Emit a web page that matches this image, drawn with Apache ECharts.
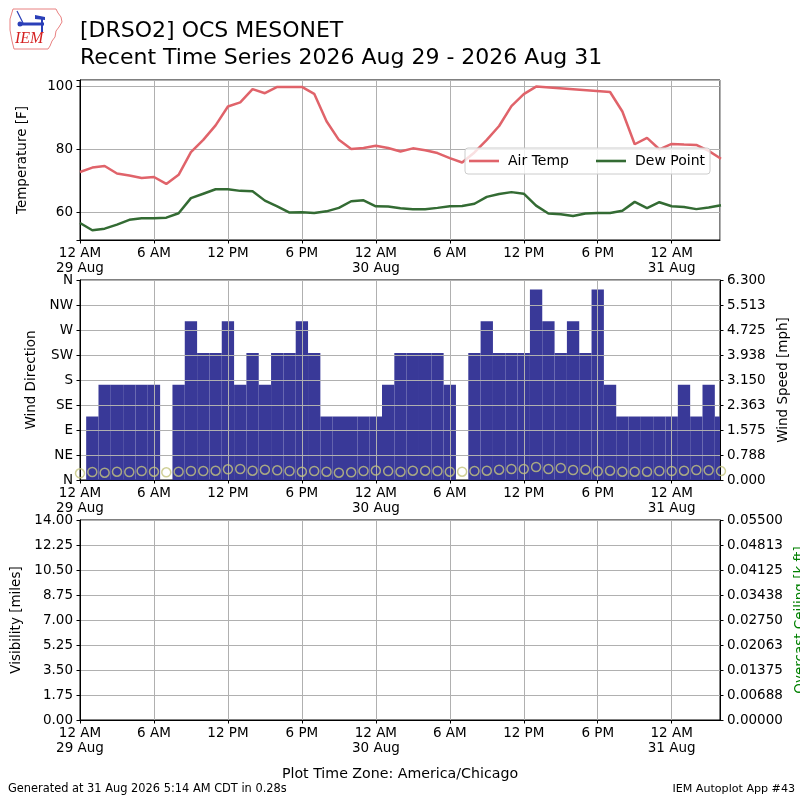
<!DOCTYPE html>
<html>
<head>
<meta charset="utf-8">
<title>[DRSO2] OCS MESONET</title>
<script src="https://cdn.jsdelivr.net/npm/echarts@6/dist/echarts.min.js"></script>
<style>
  html, body { margin: 0; padding: 0; background: #fff; }
  #chart { width: 800px; height: 800px; }
</style>
</head>
<body>
<div id="chart"></div>
<script>
  // hours since 29 Aug 2026 12 AM (America/Chicago)
  var hours = [0, 1, 2, 3, 4, 5, 6, 7, 8, 9, 10, 11, 12, 13, 14, 15, 16, 17, 18, 19,
    20, 21, 22, 23, 24, 25, 26, 27, 28, 29, 30, 31, 32, 33, 34, 35, 36, 37, 38, 39,
    40, 41, 42, 43, 44, 45, 46, 47, 48, 49, 50, 51, 52];

  var airTemp = [72.8, 74.2, 74.7, 72.3, 71.7, 70.9, 71.2, 69.0, 71.9, 79.1,
    83.0, 87.6, 93.6, 94.9, 99.1, 97.8, 99.8, 99.8, 99.8, 97.6,
    88.9, 83.0, 80.1, 80.4, 81.1, 80.4, 79.3, 80.3, 79.7, 78.8,
    77.2, 75.8, 79.0, 83.0, 87.4, 93.7, 97.5, 99.9, null, null,
    null, null, null, 98.2, 92.0, 81.6, 83.6, 80.0, 81.7, 81.5,
    81.4, 79.5, 77.0];

  var dewPoint = [56.6, 54.3, 54.8, 56.1, 57.6, 58.1, 58.1, 58.3, 59.7, 64.5,
    65.9, 67.3, 67.3, 66.8, 66.7, 63.7, 61.9, 59.9, 60.0, 59.8,
    60.3, 61.4, 63.5, 63.8, 61.9, 61.8, 61.3, 61.0, 61.0, 61.4,
    61.9, 62.0, 62.7, 64.9, 65.8, 66.4, 65.9, 62.1, 59.6, 59.4,
    58.8, 59.6, 59.8, 59.8, 60.5, 63.3, 61.3, 63.2, 61.9, 61.7,
    61.0, 61.5, 62.2];

  // mph
  var windSpeed = [0, 2, 3, 3, 3, 3, 3, 0, 3, 5,
    4, 4, 5, 3, 4, 3, 4, 4, 5, 4,
    2, 2, 2, 2, 2, 3, 4, 4, 4, 4,
    3, 0, 4, 5, 4, 4, 4, 6, 5, 4,
    5, 4, 6, 3, 2, 2, 2, 2, 2, 3,
    2, 3, 2];

  // degrees
  var windDir = [12, 14.4, 13.2, 15, 14.4, 16.2, 15, 13.8, 15, 16.2,
    16.2, 16.8, 19.2, 19.8, 16.8, 18.6, 17.4, 16.2, 15, 16.2,
    15, 13.2, 13.8, 16.2, 17, 16, 15, 16.8, 16.8, 16.2,
    15, 15, 16.2, 16.8, 18.6, 19.8, 19.8, 23.4, 19.8, 21.6,
    18, 18.6, 15.6, 16.8, 15, 15, 15, 16.2, 16.2, 16.8,
    18, 17.4, 16];

  var visibility = [];
  var ceiling = [];

  var hourLabels = ['12 AM', '6 AM', '12 PM', '6 PM'];
  var dayLabels = ['29 Aug', '30 Aug', '31 Aug'];
  var dirLabels = ['N', 'NE', 'E', 'SE', 'S', 'SW', 'W', 'NW', 'N'];

  function pairs(values) {
    return values.map(function(v, i) { return [hours[i], v]; });
  }

  function timeLabel(v) {
    var h = Math.round(v);
    if (Math.abs(v - h) > 0.01 || h % 6 !== 0) return '';
    var hod = h % 24;
    if (hod === 0) return hourLabels[0] + '\n' + dayLabels[h / 24];
    return hourLabels[hod / 6];
  }

  function fixed(d) {
    return function(v) { return (Math.round(v * Math.pow(10, d) + 1e-6) / Math.pow(10, d)).toFixed(d); };
  }

  var FONT = 'DejaVu Sans';
  var LBL = 13.5;
  var gridLine = { show: true, lineStyle: { color: '#b0b0b0', width: 1 } };
  var blackLine = { show: true, lineStyle: { color: '#000', width: 1 } };
  var tick = { show: true, length: 3.5, lineStyle: { color: '#000' } };

  function xAxis(gridIndex) {
    return {
      type: 'value', gridIndex: gridIndex, min: 0, max: 51.92, interval: 6, z: 3,
      axisLine: blackLine, axisTick: tick, splitLine: gridLine,
      axisLabel: { formatter: timeLabel, color: '#000', fontSize: LBL, lineHeight: 15, margin: 6,
        showMaxLabel: false }
    };
  }

  function yName(text, gap, color) {
    return { name: text, nameLocation: 'middle', nameGap: gap,
      nameTextStyle: { fontSize: LBL, color: color || '#000', fontFamily: FONT } };
  }

  function yAxis(o) {
    var a = {
      type: 'value', z: 3, axisLine: blackLine, axisTick: tick,
      axisLabel: { color: '#000', fontSize: LBL, margin: 7 }
    };
    for (var k in o) a[k] = o[k];
    return a;
  }

  function grid(top, height) {
    return { left: 80, top: top, width: 640, height: height, show: true,
      borderColor: '#000', borderWidth: 1, outerBoundsMode: 'none', containLabel: false };
  }

  var chart = echarts.init(document.getElementById('chart'), null, { renderer: 'canvas' });

  var option = {
    animation: false,
    textStyle: { fontFamily: FONT },
    title: {
      text: '[DRSO2] OCS MESONET\nRecent Time Series 2026 Aug 29 - 2026 Aug 31',
      left: 80, top: 18, padding: 0,
      textStyle: { fontSize: 22, fontWeight: 'normal', color: '#000', lineHeight: 27, fontFamily: FONT }
    },
    legend: {
      data: ['Air Temp', 'Dew Point'],
      left: 465, top: 148, z: 10,
      icon: 'rect', itemWidth: 30, itemHeight: 2.6, itemGap: 27,
      padding: [6, 5, 6, 4],
      backgroundColor: 'rgba(255,255,255,0.8)', borderColor: '#cccccc', borderWidth: 1, borderRadius: 3,
      textStyle: { fontSize: 14, color: '#000', padding: [0, 0, 0, 4] }
    },
    grid: [grid(80, 160), grid(280, 200), grid(520, 200)],
    xAxis: [xAxis(0), xAxis(1), xAxis(2)],
    yAxis: [
      yAxis(Object.assign({ gridIndex: 0, min: 51.2, max: 102, minInterval: 20, maxInterval: 20,
        splitLine: gridLine,
        axisLabel: { color: '#000', fontSize: LBL, margin: 7,
          formatter: function(v) { return v % 20 === 0 ? String(v) : ''; } } },
        yName('Temperature [F]', 51))),
      yAxis(Object.assign({ gridIndex: 1, min: 0, max: 360, interval: 45, splitLine: gridLine,
        axisLabel: { color: '#000', fontSize: LBL, margin: 7,
          formatter: function(v) { return dirLabels[Math.round(v / 45)]; } } },
        yName('Wind Direction', 40))),
      yAxis(Object.assign({ gridIndex: 1, position: 'right', min: 0, max: 6.3, interval: 0.7875,
        splitLine: { show: false },
        axisLabel: { color: '#000', fontSize: LBL, margin: 7, formatter: fixed(3) } },
        yName('Wind Speed [mph]', 55))),
      yAxis(Object.assign({ gridIndex: 2, min: 0, max: 14, interval: 1.75, splitLine: gridLine,
        axisLabel: { color: '#000', fontSize: LBL, margin: 7, formatter: fixed(2) } },
        yName('Visibility [miles]', 56))),
      yAxis(Object.assign({ gridIndex: 2, position: 'right', min: 0, max: 0.055, interval: 0.006875,
        splitLine: { show: false },
        axisLabel: { color: '#000', fontSize: LBL, margin: 7, formatter: fixed(5) } },
        yName('Overcast Ceiling [k ft]', 72, '#008000')))
    ],
    series: [
      {
        name: 'Air Temp', type: 'line', xAxisIndex: 0, yAxisIndex: 0, z: 4,
        data: pairs(airTemp), connectNulls: true, symbol: 'none', clip: true,
        lineStyle: { color: '#e0636a', width: 2.5 }, itemStyle: { color: '#e0636a' }
      },
      {
        name: 'Dew Point', type: 'line', xAxisIndex: 0, yAxisIndex: 0, z: 4,
        data: pairs(dewPoint), symbol: 'none', clip: true,
        lineStyle: { color: '#336b33', width: 2.5 }, itemStyle: { color: '#336b33' }
      },
      {
        name: 'Wind Speed', type: 'bar', xAxisIndex: 1, yAxisIndex: 2, z: 2,
        data: pairs(windSpeed), barWidth: '100%', clip: true,
        itemStyle: { color: '#393998' }
      },
      {
        name: 'Wind Direction', type: 'scatter', xAxisIndex: 1, yAxisIndex: 1, z: 5,
        data: pairs(windDir), symbol: 'circle', symbolSize: 9, clip: false,
        itemStyle: { color: 'transparent', borderColor: '#c4c47e', borderWidth: 1.5 }
      },
      { name: 'Visibility', type: 'line', xAxisIndex: 2, yAxisIndex: 3, data: visibility },
      { name: 'Ceiling', type: 'line', xAxisIndex: 2, yAxisIndex: 4, data: ceiling }
    ],
    graphic: [
      // bars on a value axis are clipped with a band of slack; trim the last one at the frame
      { type: 'rect', z: 2.5, shape: { x: 720.5, y: 279, width: 12, height: 202 }, style: { fill: '#fff' } },
      // IEM logo
      { type: 'polyline', z: 10, shape: { points: [[13, 9], [56, 9], [58, 13], [61, 17], [62, 22], [59, 27],
        [56, 31], [55, 37], [52, 41], [50, 46], [48, 49], [14, 49], [12, 41], [10, 30], [10, 19], [13, 9]] },
        style: { stroke: '#e88080', fill: null, lineWidth: 1 } },
      { type: 'line', z: 10, shape: { x1: 20, y1: 24, x2: 44, y2: 24 }, style: { stroke: '#2a3fb8', lineWidth: 3 } },
      { type: 'line', z: 10, shape: { x1: 42, y1: 17, x2: 42, y2: 32 }, style: { stroke: '#2a3fb8', lineWidth: 2 } },
      { type: 'polygon', z: 10, shape: { points: [[35, 15], [45, 17], [45, 20], [35, 19]] }, style: { fill: '#2a3fb8' } },
      { type: 'line', z: 10, shape: { x1: 17, y1: 11, x2: 23, y2: 23 }, style: { stroke: '#2a3fb8', lineWidth: 1.2 } },
      { type: 'circle', z: 10, shape: { cx: 20, cy: 24, r: 2.5 }, style: { fill: '#2a3fb8' } },
      { type: 'text', z: 10, left: 15, top: 31,
        style: { text: 'IEM', fill: '#d42020', font: 'italic 16px "Liberation Serif"' } },
      // footer
      { type: 'text', left: 'center', top: 767,
        style: { text: 'Plot Time Zone: America/Chicago', fill: '#000', font: '14.2px "DejaVu Sans"' } },
      { type: 'text', left: 8, top: 784,
        style: { text: 'Generated at 31 Aug 2026 5:14 AM CDT in 0.28s', fill: '#000', font: '11.4px "DejaVu Sans"' } },
      { type: 'text', right: 5, top: 784,
        style: { text: 'IEM Autoplot App #43', fill: '#000', font: '11.1px "DejaVu Sans"' } }
    ]
  };

  chart.setOption(option);
</script>
</body>
</html>
